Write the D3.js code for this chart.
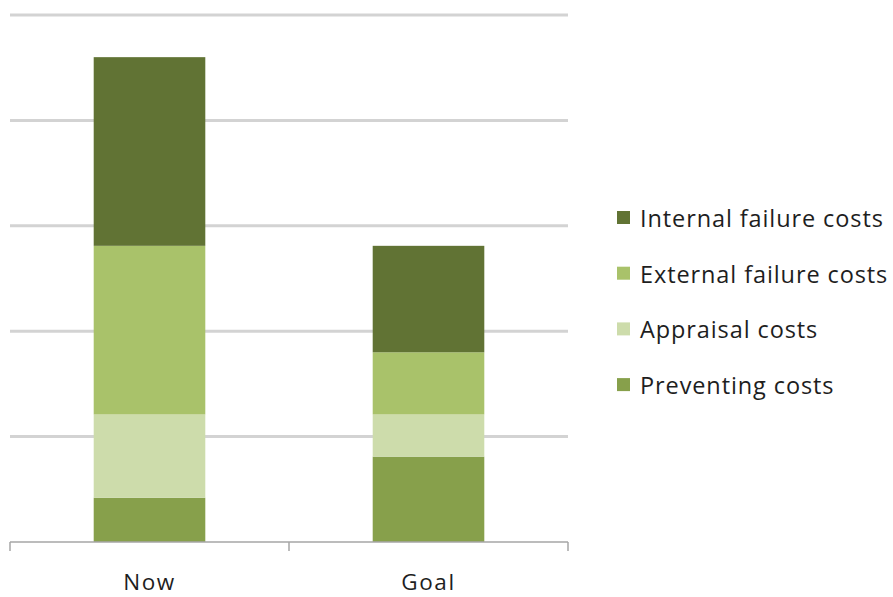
<!DOCTYPE html>
<html><head><meta charset="utf-8">
<script src="https://cdn.jsdelivr.net/npm/d3@7"></script>
<style>body{margin:0;background:#fff}svg{display:block}</style>
</head><body>
<svg id="c" width="893" height="597"></svg>
<script>
const categories = ["Now", "Goal"];
const seriesNames = ["Preventing costs", "Appraisal costs", "External failure costs", "Internal failure costs"];
const preventing = [0.42, 0.81];
const appraisal = [0.79, 0.40];
const external = [1.60, 0.59];
const internal = [1.79, 1.01];
const yTicks = [0, 1, 2, 3, 4, 5];
const colors = ["#87a04b", "#cddcab", "#a9c26a", "#617334"];

const svg = d3.select("#c");
const font = "'Open Sans', sans-serif";
const x = d3.scaleBand().domain(categories).range([10, 568]).paddingInner(0.6).paddingOuter(0.3);
const y = d3.scaleLinear().domain([0, 5]).range([542, 15]);

// gridlines
svg.append("g").selectAll("line").data(yTicks.slice(1)).join("line")
  .attr("x1", 10).attr("x2", 568)
  .attr("y1", d => y(d)).attr("y2", d => y(d))
  .attr("stroke", "#d3d3d3").attr("stroke-width", 3);

const rows = categories.map((c, i) => ({cat: c, s0: preventing[i], s1: appraisal[i], s2: external[i], s3: internal[i]}));
const stack = d3.stack().keys(["s0", "s1", "s2", "s3"])(rows);

svg.append("g").selectAll("g").data(stack).join("g")
  .attr("fill", (d, i) => colors[i])
  .selectAll("rect").data(d => d).join("rect")
  .attr("x", d => x(d.data.cat))
  .attr("width", x.bandwidth())
  .attr("y", d => y(d[1]))
  .attr("height", d => y(d[0]) - y(d[1]));

// axis
const axisG = svg.append("g");
axisG.append("line").attr("x1", 10).attr("x2", 568).attr("y1", y(0)).attr("y2", y(0))
  .attr("stroke", "#a6a6a6").attr("stroke-width", 1.5);
const edges = [10, (10 + 568) / 2, 568];
axisG.selectAll("line.t").data(edges).join("line").attr("class", "t")
  .attr("x1", d => d).attr("x2", d => d).attr("y1", y(0)).attr("y2", y(0) + 9)
  .attr("stroke", "#a6a6a6").attr("stroke-width", 1.5);
axisG.selectAll("text").data(categories).join("text")
  .attr("x", d => x(d) + x.bandwidth() / 2).attr("y", 590)
  .attr("text-anchor", "middle").attr("font-family", font).attr("font-size", 22.5)
  .attr("letter-spacing", 1.6)
  .attr("fill", "#1e1e1e").text(d => d);

// legend (top to bottom: reverse of stack order)
const legendOrder = [3, 2, 1, 0];
const lg = svg.append("g").selectAll("g").data(legendOrder).join("g")
  .attr("transform", (d, i) => `translate(617, ${218 + i * 55.7})`);
lg.append("rect").attr("x", 0).attr("y", -7).attr("width", 13).attr("height", 13)
  .attr("fill", d => colors[d]);
lg.append("text").attr("x", 23).attr("y", 9).attr("font-family", font).attr("font-size", 23.5)
  .attr("letter-spacing", 0.9)
  .attr("fill", "#1e1e1e").text(d => seriesNames[d]);
</script>
</body></html>
